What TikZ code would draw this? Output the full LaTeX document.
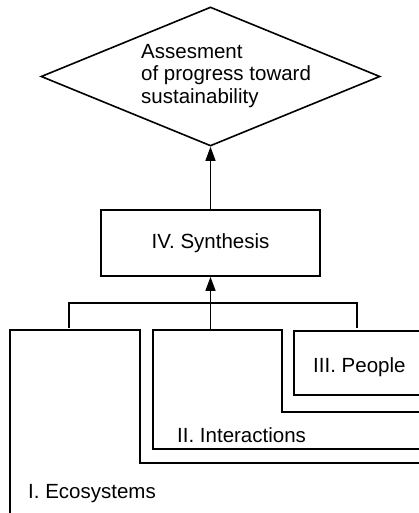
\documentclass[tikz,border=0pt]{standalone}
\usepackage{fontspec}
\setmainfont{Liberation Sans}
\usetikzlibrary{shapes.geometric,arrows.meta}
\begin{document}
\begin{tikzpicture}[x=1pt,y=-1pt,
  lbl/.style={font=\fontsize{20.5}{22.5}\selectfont,inner sep=0pt},
  frame/.style={line width=1.7pt,line cap=rect},
  brk/.style={line width=1.2pt},
  uparrow/.style={line width=1.4pt,-{Triangle[width=10pt,length=14pt]}}]
\useasboundingbox (0,0) rectangle (419,513);
% goal diamond
\node[diamond,draw,line width=1.6pt,minimum width=339pt,minimum height=139pt,inner sep=0pt] (goal) at (210.5,76.5) {};
\node[lbl,align=left,anchor=north west] (goaltext) at (141,44)
  {Assesment\\of progress toward\\sustainability};
% synthesis box
\node[lbl,draw,line width=1.7pt,minimum width=219pt,minimum height=66pt] (synth) at (210.5,243) {IV. Synthesis};
\draw[uparrow] (synth.north) -- (goal.south);
% bracket
\coordinate (bl) at (69,328);
\coordinate (br) at (357,328);
\coordinate (bm) at (210.5,330);
\draw[brk] (bl) -- (69,303) -- (357,303) -- (br);
\draw[uparrow] (bm) -- (synth.south);
% nested frames
\coordinate (e1) at (10,513);
\coordinate (e2) at (419,463);
\draw[frame] (e1) -- (10,330) -- (140,330) -- (140,463) -- (e2);
\coordinate (i1) at (153,449);
\coordinate (i2) at (419,412);
\draw[frame] (i1) -- (419,449);
\draw[frame] (i1) -- (153,330) -- (282,330) -- (282,412) -- (i2);
\coordinate (p1) at (294,395);
\coordinate (p2) at (419,331);
\draw[frame] (419,395) -- (p1) -- (294,331) -- (p2);
% labels
\node[lbl,anchor=base west] (people) at (313,372) {III. People};
\node[lbl,anchor=base west] (inter) at (177,442) {II. Interactions};
\node[lbl,anchor=base west] (eco) at (28,498) {I. Ecosystems};
\end{tikzpicture}
\end{document}
